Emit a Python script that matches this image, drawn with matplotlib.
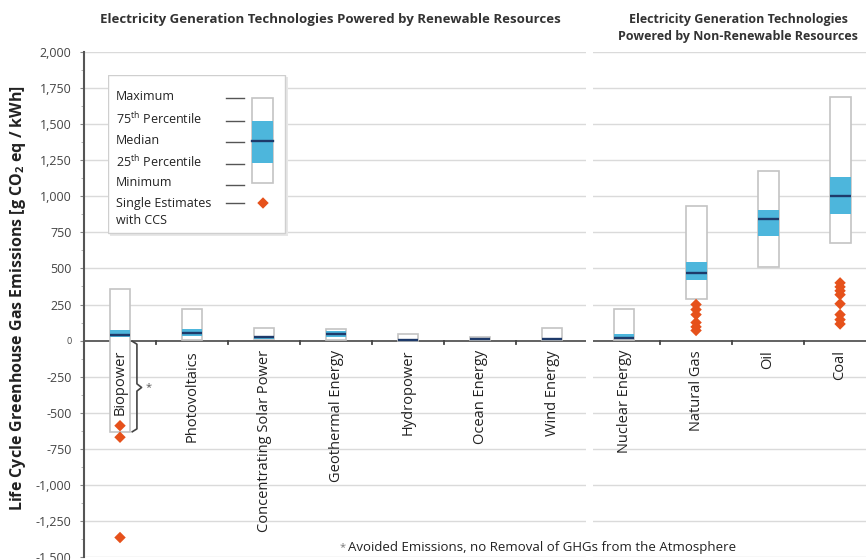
import matplotlib
matplotlib.use('Agg')
import matplotlib.pyplot as plt
import numpy as np
from matplotlib.patches import Rectangle

plt.rcParams['font.family'] = ['Open Sans', 'DejaVu Sans']
plt.rcParams['mathtext.default'] = 'regular'

# Data (g CO2 eq / kWh)
categories = ['Biopower', 'Photovoltaics', 'Concentrating Solar Power', 'Geothermal Energy',
              'Hydropower', 'Ocean Energy', 'Wind Energy',
              'Nuclear Energy', 'Natural Gas', 'Oil', 'Coal']
maximum = [360, 219, 90, 82, 43, 23, 85, 221, 930, 1172, 1690]
pct75 = [76, 80, 32, 65, 7, 9, 16, 46, 545, 905, 1133]
median = [40, 50, 24, 46, 4, 8, 12, 20, 470, 842, 1002]
pct25 = [28, 30, 14, 22, 3, 6, 8, 8, 422, 722, 877]
minimum = [-633, 5, 9, 6, 0, 2, 2, 1, 290, 510, 676]

# single estimates with CCS
ccs_category = ['Biopower'] * 3 + ['Natural Gas'] * 6 + ['Coal'] * 8
ccs_values = [-590, -670, -1365,
              250, 215, 180, 125, 95, 70,
              400, 372, 345, 318, 255, 180, 145, 115]

yticks = list(range(-1500, 2001, 250))

box_edge = '#c4c4c4'
blue = '#4db6dc'
navy = '#1e3a6a'
orange = '#e6511b'
grid_col = '#dadada'
text_col = '#333333'

fig = plt.figure(figsize=(8.66, 5.6), dpi=100)
ax = fig.add_axes([84 / 866, 3 / 560, 782 / 866, 505 / 560])

x = np.arange(len(categories))
ax.set_xlim(-0.5, 10.36)
ax.set_ylim(-1500, 2000)

# grid and axes
for v in yticks:
    if v != 0:
        ax.axhline(v, color=grid_col, linewidth=1, zorder=0)
ax.axhline(0, color='#555555', linewidth=1.3, zorder=3)
ax.axvspan(6.47, 6.57, color='white', zorder=4, linewidth=0)
for t in [0.5, 1.5, 2.5, 3.5, 4.5, 5.5, 7.5, 8.5, 9.5]:
    ax.plot([t, t], [0, -22], color='#444444', linewidth=1.3, zorder=3)

for s in ['top', 'right', 'bottom']:
    ax.spines[s].set_visible(False)
ax.spines['left'].set_color('#555555')
ax.spines['left'].set_linewidth(1.5)
ax.set_xticks([])
ax.set_yticks(yticks, [f'{v:,}' for v in yticks], fontsize=9, color='#444444')
ax.set_yticks(np.arange(-1500, 2001, 125), minor=True)
ax.tick_params(axis='y', which='major', length=3, color='#888888', pad=6)
ax.tick_params(axis='y', which='minor', length=2, color='#aaaaaa')
for lab in ax.get_yticklabels():
    if lab.get_text() == '0':
        lab.set_fontsize(6.5)

# boxes
w = 0.29
ax.bar(x, np.array(maximum) - np.array(minimum), bottom=minimum, width=w,
       facecolor='white', edgecolor=box_edge, linewidth=1.2, zorder=5)
ax.bar(x, np.array(pct75) - np.array(pct25), bottom=pct25, width=w,
       facecolor=blue, edgecolor='none', zorder=6)
ax.hlines(median, x - w / 2, x + w / 2, color=navy, linewidth=1.7, zorder=7)

# CCS estimates
ccs_x = [categories.index(c) for c in ccs_category]
ax.scatter(ccs_x, ccs_values, marker='D', s=34, color=orange, edgecolors='none', zorder=8)

# category labels
for i, c in enumerate(categories):
    ax.text(i, -65, c, rotation=90, ha='center', va='top', fontsize=10.5,
            color='#222222', zorder=9)

# brace for biopower avoided emissions
bx = [0.17, 0.235, 0.235, 0.3, 0.235, 0.235, 0.17]
by = [-5, -25, -300, -325, -350, -612, -632]
ax.plot(bx, by, color='#444444', linewidth=1.2, zorder=9)
ax.text(0.4, -325, '*', fontsize=8, color='#555555', ha='center', va='center', zorder=9)

# headers
fig.text(330 / 866, 1 - 19 / 560, 'Electricity Generation Technologies Powered by Renewable Resources',
         ha='center', va='center', fontsize=9.5, fontweight='bold', color=text_col)
fig.text(738 / 866, 1 - 28 / 560, 'Electricity Generation Technologies\nPowered by Non-Renewable Resources',
         ha='center', va='center', fontsize=9, fontweight='bold', color=text_col,
         linespacing=1.4)

# y label
fig.text(18 / 866, 1 - 298 / 560, 'Life Cycle Greenhouse Gas Emissions [g CO$_2$ eq / kWh]',
         rotation=90, ha='center', va='center', fontsize=11.5, fontweight='bold', color='#222222')

# footnote
fig.text(340 / 866, 1 - 548 / 560, '*', fontsize=8, color='#777777', ha='left', va='center')
fig.text(348 / 866, 1 - 547 / 560, 'Avoided Emissions, no Removal of GHGs from the Atmosphere',
         fontsize=9.5, color='#222222', ha='left', va='center')

# legend panel
lg = ax.inset_axes([24 / 782, 1 - 184 / 505, 180 / 782, 161 / 505])
lg.set_xlim(0, 180)
lg.set_ylim(161, 0)
lg.set_xticks([])
lg.set_yticks([])
lg.set_zorder(10)
for s in lg.spines.values():
    s.set_visible(False)
lg.add_patch(Rectangle((2, 2), 178, 159, facecolor='#d8d8d8', edgecolor='none', alpha=0.6))
lg.add_patch(Rectangle((0, 0), 177, 158, facecolor='white', edgecolor='#cfcfcf', linewidth=1))
legend_rows = [('Maximum', 21), ('75$^{th}$ Percentile', 44), ('Median', 65),
               ('25$^{th}$ Percentile', 87), ('Minimum', 108)]
for txt, yy in legend_rows:
    lg.text(8, yy, txt, fontsize=9, va='center', ha='left', color='#222222')
    lg.plot([118, 136], [yy + 2, yy + 2], color='#555555', linewidth=1)
lg.text(8, 128, 'Single Estimates', fontsize=9, va='center', ha='left', color='#222222')
lg.text(8, 145, 'with CCS', fontsize=9, va='center', ha='left', color='#222222')
lg.plot([118, 136], [128, 128], color='#555555', linewidth=1)
lg.add_patch(Rectangle((144, 23), 21, 85, facecolor='white', edgecolor=box_edge, linewidth=1.2))
lg.add_patch(Rectangle((144, 46), 21, 42, facecolor=blue, edgecolor='none'))
lg.plot([144, 165], [66, 66], color=navy, linewidth=1.7)
lg.scatter([155], [128], marker='D', s=34, color=orange, edgecolors='none')

fig.savefig('out.png', dpi=100)
